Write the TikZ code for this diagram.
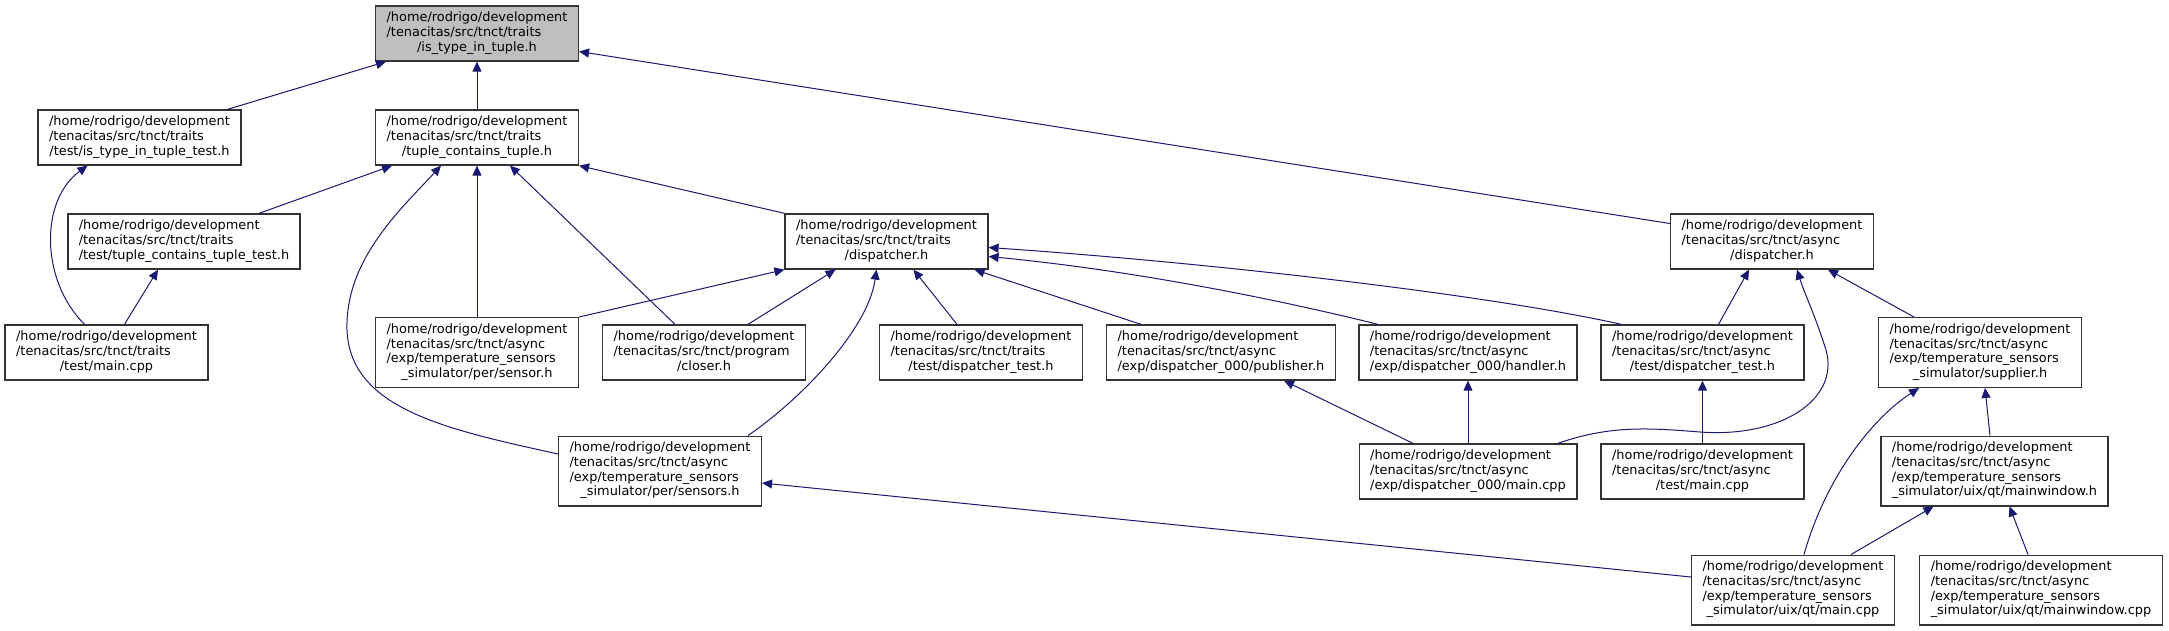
\documentclass[tikz,border=0pt]{standalone}
\usepackage{fontspec}
\setmainfont{DejaVu Sans}
\usetikzlibrary{arrows.meta}
\definecolor{edgeblue}{HTML}{191970}
\definecolor{rootgray}{HTML}{BFBFBF}
\definecolor{boxline}{HTML}{333333}
% left-aligned lines, last line centred (doxygen style)
\newcommand{\fpath}[2]{\begin{tabular}{@{}l@{}}#1\\\multicolumn{1}{@{}c@{}}{#2}\end{tabular}}

\begin{document}
\begin{tikzpicture}[x=1pt, y=-1pt,
  every node/.style={font=\fontsize{12.9}{14.7}\selectfont},
  file/.style={draw=boxline, line width=1.4pt, fill=white, inner xsep=11pt, inner ysep=5.4pt},
  dep/.style={draw=edgeblue, line width=1pt, -{Triangle[length=10pt,width=9pt]}}]
\useasboundingbox (0,0) rectangle (2169,631);
% files
\node[file,fill=rootgray] (root) at (477,33.5) {\fpath{/home/rodrigo/development\\/tenacitas/src/tnct/traits}{/is\_type\_in\_tuple.h}};
\node[file] (istest) at (139.5,137.5) {\fpath{/home/rodrigo/development\\/tenacitas/src/tnct/traits}{/test/is\_type\_in\_tuple\_test.h}};
\node[file] (tct) at (477,137.5) {\fpath{/home/rodrigo/development\\/tenacitas/src/tnct/traits}{/tuple\_contains\_tuple.h}};
\node[file] (tcttest) at (184,241.5) {\fpath{/home/rodrigo/development\\/tenacitas/src/tnct/traits}{/test/tuple\_contains\_tuple\_test.h}};
\node[file] (trdisp) at (886.5,241.5) {\fpath{/home/rodrigo/development\\/tenacitas/src/tnct/traits}{/dispatcher.h}};
\node[file] (asdisp) at (1772,241.5) {\fpath{/home/rodrigo/development\\/tenacitas/src/tnct/async}{/dispatcher.h}};
\node[file] (trmain) at (106.5,352.5) {\fpath{/home/rodrigo/development\\/tenacitas/src/tnct/traits}{/test/main.cpp}};
\node[file] (sensor) at (477,352.5) {\fpath{/home/rodrigo/development\\/tenacitas/src/tnct/async\\/exp/temperature\_sensors}{\_simulator/per/sensor.h}};
\node[file] (closer) at (704,352.5) {\fpath{/home/rodrigo/development\\/tenacitas/src/tnct/program}{/closer.h}};
\node[file] (trdtest) at (981,352.5) {\fpath{/home/rodrigo/development\\/tenacitas/src/tnct/traits}{/test/dispatcher\_test.h}};
\node[file] (publisher) at (1221,352.5) {\fpath{/home/rodrigo/development\\/tenacitas/src/tnct/async}{/exp/dispatcher\_000/publisher.h}};
\node[file] (handler) at (1468,352.5) {\fpath{/home/rodrigo/development\\/tenacitas/src/tnct/async}{/exp/dispatcher\_000/handler.h}};
\node[file] (asdtest) at (1702.5,352.5) {\fpath{/home/rodrigo/development\\/tenacitas/src/tnct/async}{/test/dispatcher\_test.h}};
\node[file] (supplier) at (1980,352.5) {\fpath{/home/rodrigo/development\\/tenacitas/src/tnct/async\\/exp/temperature\_sensors}{\_simulator/supplier.h}};
\node[file] (sensors) at (660,471) {\fpath{/home/rodrigo/development\\/tenacitas/src/tnct/async\\/exp/temperature\_sensors}{\_simulator/per/sensors.h}};
\node[file] (dmain) at (1468,471.5) {\fpath{/home/rodrigo/development\\/tenacitas/src/tnct/async}{/exp/dispatcher\_000/main.cpp}};
\node[file] (asmain) at (1702.5,471.5) {\fpath{/home/rodrigo/development\\/tenacitas/src/tnct/async}{/test/main.cpp}};
\node[file] (mainwin) at (1994.5,471) {\fpath{/home/rodrigo/development\\/tenacitas/src/tnct/async\\/exp/temperature\_sensors}{\_simulator/uix/qt/mainwindow.h}};
\node[file] (qtmain) at (1793,590) {\fpath{/home/rodrigo/development\\/tenacitas/src/tnct/async\\/exp/temperature\_sensors}{\_simulator/uix/qt/main.cpp}};
\node[file] (mwcpp) at (2041,590) {\fpath{/home/rodrigo/development\\/tenacitas/src/tnct/async\\/exp/temperature\_sensors}{\_simulator/uix/qt/mainwindow.cpp}};
% includes
\draw[dep] ([xshift=88]istest.north) -- ([xshift=-91]root.south);
\draw[dep] (tct.north) -- (root.south);
\draw[dep] ([yshift=18]asdisp.west) -- ([yshift=-18]root.east);
\draw[dep] ([xshift=-22]trmain.north) .. controls (40,280) and (40,200) .. ([xshift=-52]istest.south);
\draw[dep] ([xshift=18]trmain.north) -- ([xshift=-26]tcttest.south);
\draw[dep] ([xshift=75]tcttest.north) -- ([xshift=-85]tct.south);
\draw[dep] ([yshift=17]sensors.west) .. controls (450,430) and (350,410) .. (347,330)
  .. controls (345,260) and (400,210) .. ([xshift=-36]tct.south);
\draw[dep] (sensor.north) -- (tct.south);
\draw[dep] ([xshift=-29]closer.north) -- ([xshift=33]tct.south);
\draw[dep] (trdisp.north west) -- (tct.south east);
\draw[dep] (sensor.north east) -- (trdisp.south west);
\draw[dep] ([xshift=44]closer.north) -- ([xshift=-51]trdisp.south);
\draw[dep] ([xshift=88]sensors.north) .. controls (800,400) and (868,330) .. ([xshift=-10]trdisp.south);
\draw[dep] ([xshift=-24]trdtest.north) -- ([xshift=27]trdisp.south);
\draw[dep] ([xshift=-80]publisher.north) -- ([xshift=88]trdisp.south);
\draw[dep] ([xshift=-90]handler.north) .. controls (1300,305) and (1150,272) .. ([yshift=-15]trdisp.east);
\draw[dep] ([xshift=-81]asdtest.north) .. controls (1480,293) and (1200,262) .. ([yshift=-6]trdisp.east);
\draw[dep] ([xshift=-55]dmain.north) -- ([xshift=63]publisher.south);
\draw[dep] (dmain.north) -- (handler.south);
\draw[dep] ([xshift=90]dmain.north) .. controls (1610,425) and (1650,428) .. (1700,432)
  .. controls (1780,438) and (1840,400) .. (1826,350)
  .. controls (1815,315) and (1805,295) .. ([xshift=25]asdisp.south);
\draw[dep] ([xshift=16]asdtest.north) -- ([xshift=-23]asdisp.south);
\draw[dep] (asmain.north) -- (asdtest.south);
\draw[dep] ([xshift=-66]supplier.north) -- ([xshift=56]asdisp.south);
\draw[dep] ([xshift=-4.5]mainwin.north) -- ([xshift=5]supplier.south);
\draw[dep] ([xshift=11]qtmain.north) .. controls (1825,480) and (1870,420) .. ([xshift=-61]supplier.south);
\draw[dep] ([xshift=58]qtmain.north) -- ([xshift=-61]mainwin.south);
\draw[dep] ([xshift=-13]mwcpp.north) -- ([xshift=15]mainwin.south);
\draw[dep] ([yshift=13]qtmain.west) -- ([yshift=-12]sensors.east);
\end{tikzpicture}
\end{document}
